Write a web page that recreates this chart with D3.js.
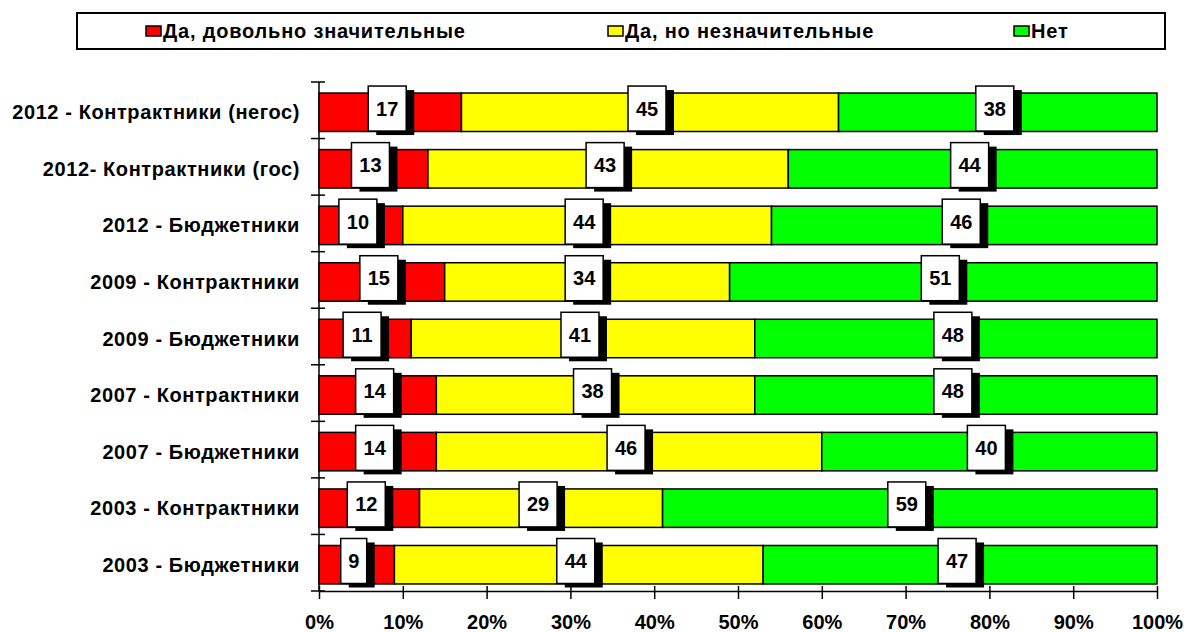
<!DOCTYPE html>
<html>
<head>
<meta charset="utf-8">
<script src="https://cdn.jsdelivr.net/npm/d3@7"></script>
<style>
  body { margin: 0; background: #fff; }
  text { font-family: "Liberation Sans", Arial, sans-serif; font-weight: bold; fill: #000; }
</style>
</head>
<body>
<div id="chart"></div>
<script>
'use strict';

const categories = [
  '2012 - Контрактники (негос)',
  '2012- Контрактники (гос)',
  '2012 - Бюджетники',
  '2009 - Контрактники',
  '2009 - Бюджетники',
  '2007 - Контрактники',
  '2007 - Бюджетники',
  '2003 - Контрактники',
  '2003 - Бюджетники'
];
const seriesNames = ['Да, довольно значительные', 'Да, но незначительные', 'Нет'];
const significant = [17, 13, 10, 15, 11, 14, 14, 12, 9];
const minor = [45, 43, 44, 34, 41, 38, 46, 29, 44];
const none = [38, 44, 46, 51, 48, 48, 40, 59, 47];
const colors = ['#ff0000', '#ffff00', '#00ff00'];
const xTicks = [0, 0.1, 0.2, 0.3, 0.4, 0.5, 0.6, 0.7, 0.8, 0.9, 1];

const W = 1184, H = 632;
const svg = d3.select('#chart').append('svg').attr('width', W).attr('height', H);

const plotLeft = 319, plotRight = 1157, plotTop = 82, plotBottom = 591;

const rows = categories.map(function(c, i) {
  return { cat: c, values: [significant[i], minor[i], none[i]] };
});

const x = d3.scaleLinear().domain([0, 1]).range([plotLeft, plotRight]);
// bars sit a touch below the band centre in the original
const y = d3.scaleBand().domain(categories).range([plotTop + 2, plotBottom + 2]).paddingInner(0.32).paddingOuter(0.16);

// legend
const legend = svg.append('g');
legend.append('rect').attr('x', 77).attr('y', 13).attr('width', 1088).attr('height', 36)
  .attr('fill', '#fff').attr('stroke', '#000').attr('stroke-width', 2);
const legendX = [146, 608, 1014];
seriesNames.forEach(function(name, i) {
  legend.append('rect').attr('x', legendX[i]).attr('y', 26).attr('width', 15).attr('height', 10)
    .attr('fill', colors[i]).attr('stroke', '#000').attr('stroke-width', 1.5);
  legend.append('text').attr('x', legendX[i] + 17).attr('y', 38).attr('font-size', 20)
    .attr('letter-spacing', 0.8).text(name);
});

// bars
rows.forEach(function(r) {
  let acc = 0;
  const g = svg.append('g');
  r.values.forEach(function(v, i) {
    const x0 = acc / 100, x1 = (acc + v) / 100;
    g.append('rect').attr('x', x(x0)).attr('y', y(r.cat)).attr('width', x(x1) - x(x0)).attr('height', y.bandwidth())
      .attr('fill', colors[i]).attr('stroke', '#000').attr('stroke-width', 1.5);
    acc += v;
  });
});

// labels
rows.forEach(function(r) {
  let acc = 0;
  r.values.forEach(function(v) {
    const cx = x((acc + v / 2) / 100) - 3;
    const bw = String(v).length > 1 ? 38 : 26;
    const by = y(r.cat) - 7;
    const bh = 45;
    svg.append('rect').attr('x', cx - bw / 2 + 8).attr('y', by + 4).attr('width', bw).attr('height', bh).attr('fill', '#000');
    svg.append('rect').attr('x', cx - bw / 2).attr('y', by).attr('width', bw).attr('height', bh)
      .attr('fill', '#fff').attr('stroke', '#000').attr('stroke-width', 1.5);
    svg.append('text').attr('x', cx).attr('y', by + bh / 2 + 7).attr('text-anchor', 'middle')
      .attr('font-size', 20).text(v);
    acc += v;
  });
});

// y axis
svg.append('line').attr('x1', plotLeft).attr('x2', plotLeft).attr('y1', plotTop).attr('y2', plotBottom)
  .attr('stroke', '#000').attr('stroke-width', 1.5);
const bandStep = (plotBottom - plotTop) / categories.length;
d3.range(categories.length + 1).forEach(function(i) {
  const ty = plotTop + i * bandStep;
  svg.append('line').attr('x1', plotLeft - 8).attr('x2', plotLeft + 6).attr('y1', ty).attr('y2', ty)
    .attr('stroke', '#000').attr('stroke-width', 1.5);
});
svg.append('g').selectAll('text').data(categories).enter().append('text')
  .attr('x', 300).attr('y', function(d) { return y(d) + y.bandwidth() / 2 + 7; })
  .attr('text-anchor', 'end').attr('font-size', 20).attr('letter-spacing', 0.6).text(function(d) { return d; });

// x axis
const xAxis = d3.axisBottom(x).tickValues(xTicks).tickFormat(d3.format('.0%')).tickSizeInner(8).tickSizeOuter(0);
const gx = svg.append('g').attr('transform', 'translate(0,' + plotBottom + ')').call(xAxis);
gx.select('.domain').attr('stroke', '#000').attr('stroke-width', 1.5);
gx.selectAll('.tick line').attr('stroke', '#000').attr('stroke-width', 1.5).attr('y1', -5);
gx.selectAll('.tick text').attr('font-size', 20).attr('dy', 0).attr('y', 38)
  .style('font-family', '"Liberation Sans", Arial, sans-serif').style('font-weight', 'bold').attr('fill', '#000');
</script>
</body>
</html>
